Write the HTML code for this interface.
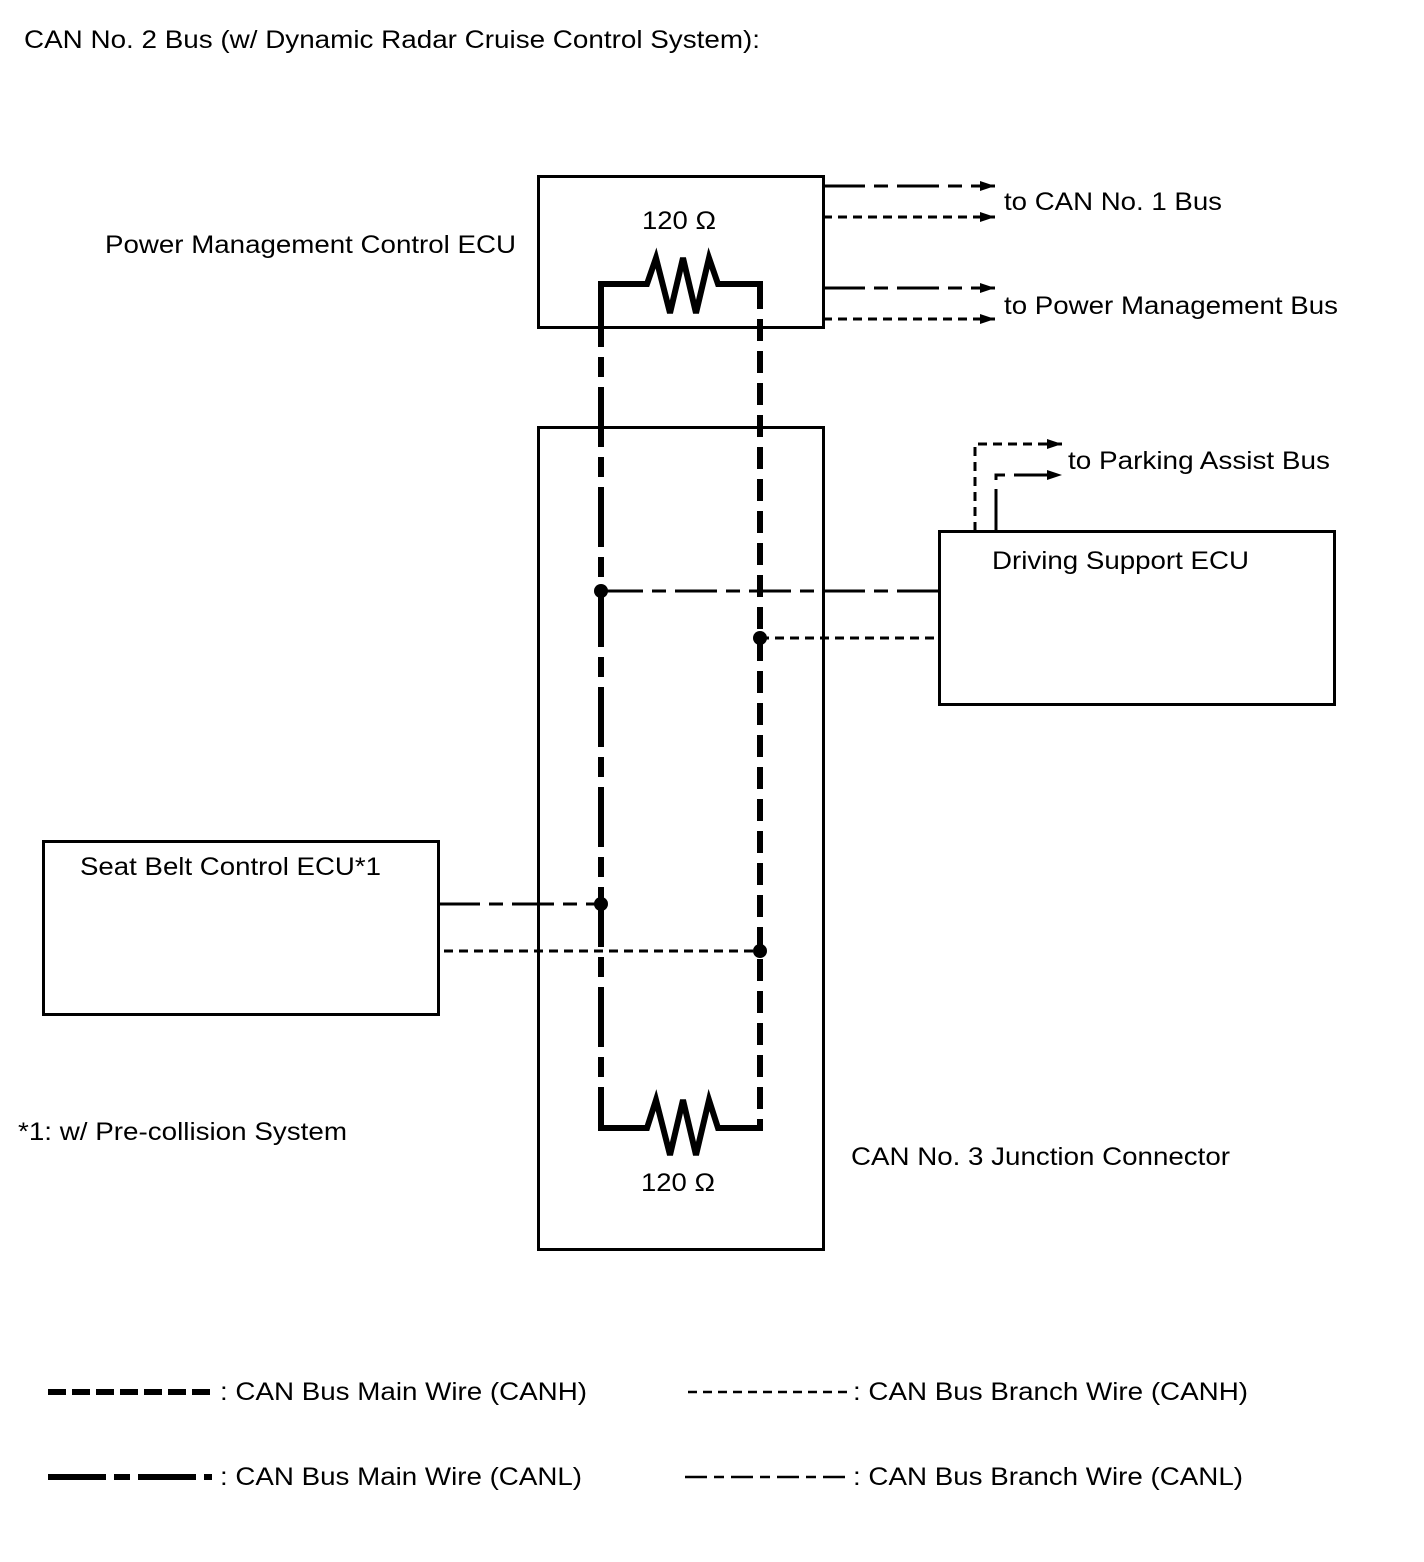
<!DOCTYPE html>
<html><head><meta charset="utf-8"><style>
html,body{margin:0;padding:0;background:#fff;}
svg{display:block;}
text{font-family:"Liberation Sans",Arial,sans-serif;font-size:25px;fill:#000;}
</style></head><body>
<svg width="1424" height="1562" viewBox="0 0 1424 1562" xmlns="http://www.w3.org/2000/svg">
<defs>
<marker id="ar" viewBox="0 0 12 8" refX="12" refY="4" markerWidth="18" markerHeight="10" markerUnits="userSpaceOnUse" orient="auto"><path d="M0,0 L12,4 L0,8 z" fill="#000"/></marker>
</defs>
<text x="24" y="48" textLength="736" lengthAdjust="spacingAndGlyphs">CAN No. 2 Bus (w/ Dynamic Radar Cruise Control System):</text>
<g fill="none" stroke="#000" stroke-width="3">
<rect x="538.5" y="176.5" width="285" height="151"/>
<rect x="538.5" y="427.5" width="285" height="822"/>
<rect x="939.5" y="531.5" width="395" height="173"/>
<rect x="43.5" y="841.5" width="395" height="173"/>
</g>
<text x="642" y="229" textLength="74" lengthAdjust="spacingAndGlyphs">120 Ω</text>
<text x="105" y="253" textLength="411" lengthAdjust="spacingAndGlyphs">Power Management Control ECU</text>
<text x="1004" y="210" textLength="218" lengthAdjust="spacingAndGlyphs">to CAN No. 1 Bus</text>
<text x="1004" y="314" textLength="334" lengthAdjust="spacingAndGlyphs">to Power Management Bus</text>
<text x="1068" y="469" textLength="262" lengthAdjust="spacingAndGlyphs">to Parking Assist Bus</text>
<text x="992" y="569" textLength="257" lengthAdjust="spacingAndGlyphs">Driving Support ECU</text>
<text x="80" y="875" textLength="301" lengthAdjust="spacingAndGlyphs">Seat Belt Control ECU*1</text>
<text x="18" y="1140" textLength="329" lengthAdjust="spacingAndGlyphs">*1: w/ Pre-collision System</text>
<text x="851" y="1165" textLength="379" lengthAdjust="spacingAndGlyphs">CAN No. 3 Junction Connector</text>
<text x="641" y="1191" textLength="74" lengthAdjust="spacingAndGlyphs">120 Ω</text>
<g fill="none" stroke="#000" stroke-width="6" stroke-linejoin="miter">
<path d="M601,287 V284 H640 L647,284 L656,258 L670,313 L683,258 L696,313 L709,258 L718,284 H760 V287"/>
<path d="M601,1125 V1128 H640 L647,1128 L656,1100 L670,1155 L683,1100 L696,1155 L709,1100 L718,1128 H760 V1125"/>
</g>
<line x1="601" y1="287" x2="601" y2="1125" stroke="#000" stroke-width="6" stroke-dasharray="60,10,20,10"/>
<line x1="760" y1="287" x2="760" y2="1125" stroke="#000" stroke-width="6" stroke-dasharray="22,10"/>
<g fill="none" stroke="#000" stroke-width="3">
<line x1="601" y1="591" x2="939" y2="591" stroke-dasharray="42,9,14,9"/>
<line x1="760" y1="638" x2="939" y2="638" stroke-dasharray="9,6"/>
<line x1="438" y1="904" x2="601" y2="904" stroke-dasharray="42,9,14,9"/>
<line x1="444" y1="951" x2="760" y2="951" stroke-dasharray="9,6"/>
<line x1="823" y1="186" x2="995" y2="186" stroke-dasharray="42,9,14,9" marker-end="url(#ar)"/>
<line x1="823" y1="217" x2="995" y2="217" stroke-dasharray="9,6" marker-end="url(#ar)"/>
<line x1="823" y1="288" x2="995" y2="288" stroke-dasharray="42,9,14,9" marker-end="url(#ar)"/>
<line x1="823" y1="319" x2="995" y2="319" stroke-dasharray="9,6" marker-end="url(#ar)"/>
<path d="M975,531 V444 H1062" stroke-dasharray="9,6" marker-end="url(#ar)"/>
<path d="M996,531 V475 H1062" stroke-dasharray="42,9,14,9" marker-end="url(#ar)"/>
</g>
<g fill="#000">
<circle cx="601" cy="591" r="7"/>
<circle cx="760" cy="638" r="7"/>
<circle cx="601" cy="904" r="7"/>
<circle cx="760" cy="951" r="7"/>
</g>
<line x1="48" y1="1392" x2="214" y2="1392" stroke="#000" stroke-width="6" stroke-dasharray="18,6"/>
<text x="220" y="1400" textLength="367" lengthAdjust="spacingAndGlyphs">: CAN Bus Main Wire (CANH)</text>
<line x1="48" y1="1477" x2="212" y2="1477" stroke="#000" stroke-width="6" stroke-dasharray="58,8,16,8"/>
<text x="220" y="1485" textLength="362" lengthAdjust="spacingAndGlyphs">: CAN Bus Main Wire (CANL)</text>
<line x1="688" y1="1392" x2="852" y2="1392" stroke="#000" stroke-width="2.5" stroke-dasharray="9,6"/>
<text x="853" y="1400" textLength="395" lengthAdjust="spacingAndGlyphs">: CAN Bus Branch Wire (CANH)</text>
<line x1="685" y1="1477" x2="850" y2="1477" stroke="#000" stroke-width="2.5" stroke-dasharray="22,7,10,7"/>
<text x="853" y="1485" textLength="390" lengthAdjust="spacingAndGlyphs">: CAN Bus Branch Wire (CANL)</text>
</svg>
</body></html>
